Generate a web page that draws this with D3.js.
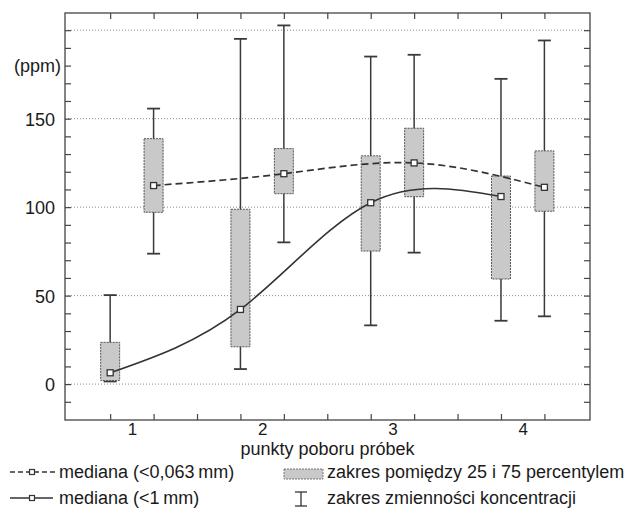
<!DOCTYPE html>
<html>
<head>
<meta charset="utf-8">
<script src="https://cdn.jsdelivr.net/npm/d3@7"></script>
<style>
  body { margin: 0; background: #fff; }
  text { font-family: "Liberation Sans", Arial, sans-serif; fill: #1a1a1a; }
</style>
</head>
<body>
<script>
// punkty poboru
var points = ["1", "2", "3", "4"];

// frakcja <0,063 mm
var fineMin = [73.7, 80.1, 74.3, 38.3];
var fineQ1 = [97.1, 107.6, 105.9, 97.7];
var fineMed = [112.2, 118.9, 125.0, 111.2];
var fineQ3 = [138.7, 133.1, 144.6, 131.8];
var fineMax = [155.7, 202.7, 186.1, 194.2];

// frakcja <1 mm
var coarseMin = [1.5, 8.5, 33.2, 35.8];
var coarseQ1 = [2.0, 21.1, 75.2, 59.4];
var coarseMed = [6.4, 42.2, 102.5, 106.0];
var coarseQ3 = [23.6, 98.8, 129.0, 117.6];
var coarseMax = [50.3, 195.1, 185.1, 172.5];

var gridValues = [0, 50, 100, 150, 200];
var yLabels = [0, 50, 100, 150];
var legendLabels = ["mediana (<0,063\u2009mm)", "mediana (<1\u2009mm)",
                    "zakres pomiędzy 25 i 75 percentylem", "zakres zmienności koncentracji"];

function main() {
    var width = 640, height = 508;
    var left = 65, right = 590, top = 13, bottom = 420;

    var svg = d3.select("body")
                .append("svg")
                .attr("width", width)
                .attr("height", height);

    // slots 1..11 along x, boxes sit on slots
    var x = d3.scaleLinear().domain([-0.04, 12.05]).range([left, right]);
    var y = d3.scaleLinear().domain([-20, 210]).range([bottom - 0.5, top - 0.5]);

    // gridlines
    svg.selectAll("line.grid")
       .data(gridValues)
       .enter()
       .append("line")
       .attr("class", "grid")
       .attr("x1", left).attr("x2", right)
       .attr("y1", function(d) { return y(d); })
       .attr("y2", function(d) { return y(d); })
       .style("stroke", "#8a8a8a")
       .style("stroke-width", 1)
       .style("stroke-dasharray", "1,2");

    // inward ticks on all four sides
    var yTicks = d3.range(-10, 201, 10);
    var xTicks = d3.range(1, 12);
    var tickStyle = function(g) {
        g.select(".domain").remove();
        g.selectAll(".tick line").style("stroke", "#444").style("stroke-width", 1.2);
        g.selectAll(".tick text").remove();
    };
    svg.append("g").attr("transform", "translate(" + left + ",0)")
       .call(d3.axisLeft(y).tickValues(yTicks).tickSize(-6)).call(tickStyle);
    svg.append("g").attr("transform", "translate(" + right + ",0)")
       .call(d3.axisRight(y).tickValues(yTicks).tickSize(-6)).call(tickStyle);
    svg.append("g").attr("transform", "translate(0," + top + ")")
       .call(d3.axisTop(x).tickValues(xTicks).tickSize(-6)).call(tickStyle);
    svg.append("g").attr("transform", "translate(0," + bottom + ")")
       .call(d3.axisBottom(x).tickValues(xTicks).tickSize(-6)).call(tickStyle);

    // tick labels
    var yAxis = svg.append("g")
       .attr("transform", "translate(" + left + ",0)")
       .call(d3.axisLeft(y).tickValues(yLabels).tickSize(0).tickPadding(10));
    yAxis.select(".domain").remove();
    yAxis.selectAll("text").style("font-size", "18px").attr("dy", "0.38em");

    var xAxis = svg.append("g")
       .attr("transform", "translate(0," + bottom + ")")
       .call(d3.axisBottom(x)
               .tickValues(points.map(function(p, i) { return 3 * i + 1.5; }))
               .tickFormat(function(d, i) { return points[i]; })
               .tickSize(0).tickPadding(3));
    xAxis.select(".domain").remove();
    xAxis.selectAll("text").style("font-size", "17px");

    svg.append("text")
       .attr("x", 61).attr("y", y(180) + 6.5)
       .attr("text-anchor", "end")
       .style("font-size", "18px")
       .text("(ppm)");

    svg.append("text")
       .attr("x", (left + right) / 2).attr("y", 455)
       .attr("text-anchor", "middle")
       .style("font-size", "18px")
       .text("punkty poboru próbek");

    // boxes
    var fine = points.map(function(p, i) {
        return {slot: 3 * i + 2, min: fineMin[i], q1: fineQ1[i], med: fineMed[i], q3: fineQ3[i], max: fineMax[i]};
    });
    var coarse = points.map(function(p, i) {
        return {slot: 3 * i + 1, min: coarseMin[i], q1: coarseQ1[i], med: coarseMed[i], q3: coarseQ3[i], max: coarseMax[i]};
    });
    var all = coarse.concat(fine);
    var boxW = 19, capW = 13;

    var g = svg.selectAll("g.box").data(all).enter().append("g").attr("class", "box");
    g.append("line")
     .attr("x1", function(d) { return x(d.slot); })
     .attr("x2", function(d) { return x(d.slot); })
     .attr("y1", function(d) { return y(d.min); })
     .attr("y2", function(d) { return y(d.max); })
     .style("stroke", "#3a3a3a").style("stroke-width", 1.5);
    ["min", "max"].forEach(function(k) {
        g.append("line")
         .attr("x1", function(d) { return x(d.slot) - capW / 2; })
         .attr("x2", function(d) { return x(d.slot) + capW / 2; })
         .attr("y1", function(d) { return y(d[k]); })
         .attr("y2", function(d) { return y(d[k]); })
         .style("stroke", "#3a3a3a").style("stroke-width", 1.8);
    });
    g.append("rect")
     .attr("x", function(d) { return x(d.slot) - boxW / 2; })
     .attr("width", boxW)
     .attr("y", function(d) { return y(d.q3); })
     .attr("height", function(d) { return y(d.q1) - y(d.q3); })
     .style("fill", "#c9c9c9")
     .style("stroke", "#555")
     .style("stroke-width", 1)
     .style("stroke-dasharray", "2,1");

    // median lines
    var line = d3.line()
                 .x(function(d) { return x(d.slot); })
                 .y(function(d) { return y(d.med); })
                 .curve(d3.curveNatural);
    svg.append("path").attr("d", line(fine))
       .style("fill", "none").style("stroke", "#333").style("stroke-width", 1.7)
       .style("stroke-dasharray", "7,4");
    svg.append("path").attr("d", line(coarse))
       .style("fill", "none").style("stroke", "#333").style("stroke-width", 1.6);

    svg.selectAll("rect.med").data(all).enter().append("rect")
       .attr("class", "med")
       .attr("x", function(d) { return x(d.slot) - 3; })
       .attr("y", function(d) { return y(d.med) - 3; })
       .attr("width", 6).attr("height", 6)
       .style("fill", "#fff").style("stroke", "#333").style("stroke-width", 1.3);

    // frame
    svg.append("rect")
       .attr("x", left).attr("y", top)
       .attr("width", right - left).attr("height", bottom - top)
       .style("fill", "none").style("stroke", "#444").style("stroke-width", 1.3);

    // legend
    var row1 = 472, row2 = 498;
    svg.append("line").attr("x1", 10).attr("x2", 55).attr("y1", row1).attr("y2", row1)
       .style("stroke", "#333").style("stroke-width", 1.4).style("stroke-dasharray", "5,3");
    svg.append("line").attr("x1", 10).attr("x2", 53).attr("y1", row2).attr("y2", row2)
       .style("stroke", "#333").style("stroke-width", 1.4);
    [row1, row2].forEach(function(r) {
        svg.append("rect").attr("x", 29.5).attr("y", r - 2.5).attr("width", 5).attr("height", 5)
           .style("fill", "#fff").style("stroke", "#333").style("stroke-width", 1.2);
    });
    svg.append("rect").attr("x", 284).attr("y", 469).attr("width", 39).attr("height", 10)
       .style("fill", "#c9c9c9").style("stroke", "#777").style("stroke-width", 1)
       .style("stroke-dasharray", "2,1");
    svg.append("line").attr("x1", 301).attr("x2", 301).attr("y1", 492).attr("y2", 506)
       .style("stroke", "#333").style("stroke-width", 1.3);
    [492, 506].forEach(function(v) {
        svg.append("line").attr("x1", 295).attr("x2", 307).attr("y1", v).attr("y2", v)
           .style("stroke", "#333").style("stroke-width", 1.3);
    });

    svg.selectAll("text.leg").data(legendLabels).enter().append("text")
       .attr("class", "leg")
       .attr("x", function(d, i) { return i < 2 ? 59 : 327; })
       .attr("y", function(d, i) { return i % 2 === 0 ? row1 + 5.5 : row2 + 6; })
       .style("font-size", "18px")
       .text(function(d) { return d; });
}

main();
</script>
</body>
</html>
